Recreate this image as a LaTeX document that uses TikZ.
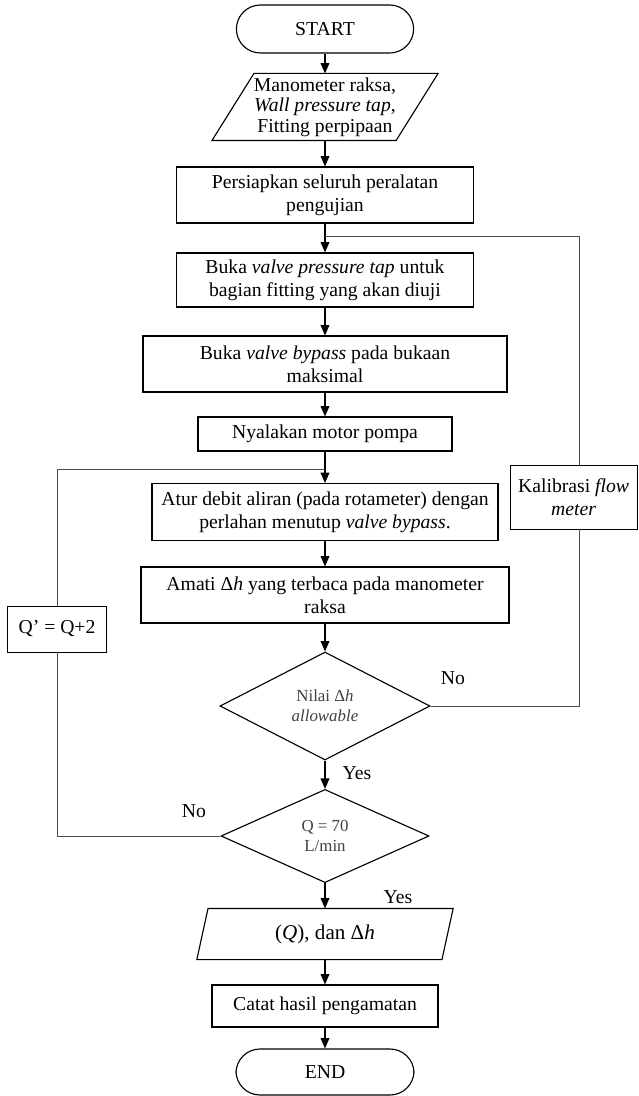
\documentclass[tikz,border=0pt]{standalone}
\usepackage{fontspec}
\setmainfont{Liberation Serif}
\usetikzlibrary{arrows.meta,shapes.geometric}

\begin{document}
\begin{tikzpicture}[>={Triangle[length=2.6mm,width=2.2mm]},thick,
every node/.style = {font=\fontsize{14}{16.5}\selectfont},
box/.style = {draw, rectangle, align=center, inner sep=2pt, minimum height=1.4cm},
term/.style = {draw, rectangle, rounded corners=0.6cm, minimum width=4.43cm, minimum height=1.2cm},
io/.style = {rectangle, align=center, inner sep=1pt},
dec/.style = {draw, diamond, align=center, inner sep=0pt, font=\fontsize{12}{14.5}\selectfont, text=black!75},
side/.style = {draw, rectangle, align=center, line width=0.5pt, inner sep=1pt},
back/.style = {line width=0.5pt, black!70}]
\useasboundingbox (0,0) rectangle (15.95,-27.4);

\node[term] at (8.125,-0.725) (start) {START};
\node[io, minimum width=4.575cm, minimum height=1.65cm, font=\fontsize{14}{14.5}\selectfont]
  at (8.125,-2.675) (inp) {Manometer raksa,\\ \textit{Wall pressure tap},\\ Fitting perpipaan};
\draw ([xshift=0.525cm]inp.north west) -- ([xshift=0.525cm]inp.north east)
  -- ([xshift=-0.525cm]inp.south east) -- ([xshift=-0.525cm]inp.south west) -- cycle;
\node[box, minimum width=7.43cm] at (8.125,-4.875) (prep) {Persiapkan seluruh peralatan\\ pengujian};
\node[box, minimum width=7.43cm, minimum height=1.35cm] at (8.125,-7.0) (tap) {Buka \textit{valve pressure tap} untuk\\ bagian fitting yang akan diuji};
\node[box, minimum width=9.1cm] at (8.125,-9.1) (bypass) {Buka \textit{valve bypass} pada bukaan\\ maksimal};
\node[box, minimum width=6.35cm, minimum height=0.85cm] at (8.125,-10.85) (pump) {Nyalakan motor pompa};
\node[box, minimum width=8.65cm, minimum height=1.42cm] at (8.125,-12.8) (flow) {Atur debit aliran (pada rotameter) dengan\\ perlahan menutup \textit{valve bypass}.};
\node[box, minimum width=9.2cm] at (8.125,-14.875) (obs) {Amati Δ\textit{h} yang terbaca pada manometer\\ raksa};
\node[dec, minimum width=5.25cm, minimum height=2.7cm] at (8.125,-17.65) (chk) {Nilai Δ\textit{h}\\ \textit{allowable}};
\node[dec, minimum width=5.2cm, minimum height=2.33cm] at (8.125,-20.9) (qmax) {Q = 70\\ L/min};
\node[io, minimum width=6.1cm, minimum height=1.25cm, font=\fontsize{15}{17}\selectfont]
  at (8.125,-23.35) (out) {(\textit{Q}), dan Δ\textit{h}};
\draw ([xshift=0.14cm]out.north west) -- ([xshift=0.14cm]out.north east)
  -- ([xshift=-0.14cm]out.south east) -- ([xshift=-0.14cm]out.south west) -- cycle;
\node[box, minimum width=5.65cm, minimum height=1.05cm] at (8.125,-25.15) (rec) {Catat hasil pengamatan};
\node[term, minimum width=4.45cm, minimum height=1.15cm] at (8.125,-26.8) (end) {END};

\node[side, minimum width=3.18cm, minimum height=1.6cm] at (14.34,-12.425) (cal) {Kalibrasi \textit{flow}\\ \textit{meter}};
\node[side, minimum width=2.48cm, minimum height=1.15cm] at (1.425,-15.725) (qnew) {Q’ = Q+2};

\node at (11.325,-16.95) (no1) {No};
\node at (8.925,-19.325) (yes1) {Yes};
\node at (4.85,-20.275) (no2) {No};
\node at (9.95,-22.425) (yes2) {Yes};

\draw[->] (start) -- (inp);
\draw[->] (inp) -- (prep);
\draw[->] (prep) -- (tap);
\draw[->] (tap) -- (bypass);
\draw[->] (bypass) -- (pump);
\draw[->] (pump) -- (flow);
\draw[->] (flow) -- (obs);
\draw[->] (obs) -- (chk);
\draw[->] (chk) -- (qmax);
\draw[->] (qmax) -- (out);
\draw[->] (out) -- (rec);
\draw[->] (rec) -- (end);

\coordinate (rt) at (14.475,-5.9);
\coordinate (lt) at (1.425,-11.725);
\draw[back] (chk.east) -| (cal.south -| rt);
\draw[back] (cal.north -| rt) -- (rt) -- (rt -| prep.south);
\draw[back] (qmax.west) -| (qnew.south);
\draw[back] (qnew.north) -- (lt) -- (lt -| pump.south);
\end{tikzpicture}
\end{document}
